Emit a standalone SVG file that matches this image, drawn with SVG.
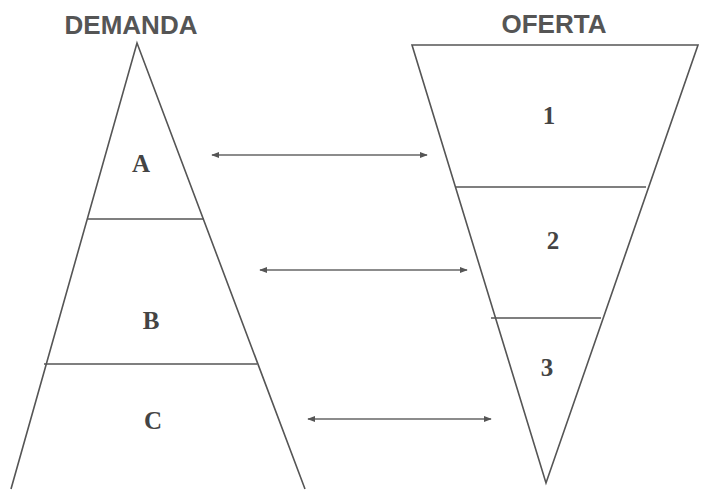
<svg xmlns="http://www.w3.org/2000/svg" width="701" height="490" viewBox="0 0 701 490">
<style>
.shape{fill:none;stroke:#555;stroke-width:1.6}
.title{font-family:"Liberation Sans",Arial,sans-serif;font-weight:bold;font-size:26px;fill:#555;text-anchor:middle}
.lab{font-family:"Liberation Serif","Times New Roman",serif;font-weight:bold;font-size:25px;fill:#444;text-anchor:middle}
.conn{stroke:#666;stroke-width:1.3;fill:none;marker-start:url(#ah);marker-end:url(#ah)}
</style>
<defs>
<marker id="ah" viewBox="0 0 10 10" refX="9" refY="5" markerWidth="8" markerHeight="8" markerUnits="userSpaceOnUse" orient="auto-start-reverse">
<path d="M0,1 L10,5 L0,9 Z" fill="#555"/>
</marker>
</defs>
<rect width="701" height="490" fill="#fff"/>
<g id="demanda">
<text class="title" x="131" y="34">DEMANDA</text>
<polyline class="shape" points="11,489 137,43 305,489"/>
<line class="shape" x1="88" y1="219" x2="204" y2="219"/>
<line class="shape" x1="44" y1="364" x2="257" y2="364"/>
<text class="lab" x="141" y="172">A</text>
<text class="lab" x="151" y="329">B</text>
<text class="lab" x="153" y="429">C</text>
</g>
<g id="oferta">
<text class="title" x="554" y="33">OFERTA</text>
<polygon class="shape" points="412,45 698,45 546,483"/>
<line class="shape" x1="455" y1="187" x2="646" y2="187"/>
<line class="shape" x1="491" y1="318" x2="601" y2="318"/>
<text class="lab" x="549" y="124">1</text>
<text class="lab" x="553" y="249">2</text>
<text class="lab" x="547" y="376">3</text>
</g>
<g id="connectors">
<line class="conn" x1="212" y1="155" x2="427" y2="155"/>
<line class="conn" x1="260" y1="270" x2="467" y2="270"/>
<line class="conn" x1="308" y1="419" x2="491" y2="419"/>
</g>
</svg>
